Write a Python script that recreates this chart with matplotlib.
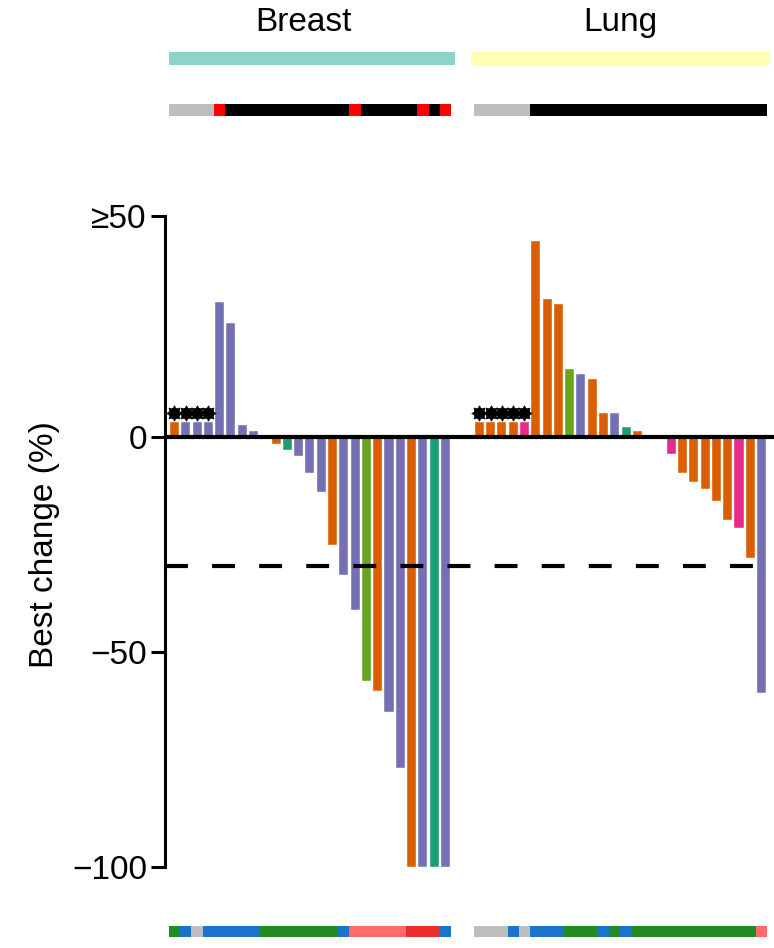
import matplotlib
matplotlib.use("Agg")
import matplotlib.pyplot as plt
import numpy as np

plt.rcParams['font.family'] = ['Liberation Sans', 'DejaVu Sans']

# best change (%) per patient, sorted as in the figure
breast_change = [3.5, 3.5, 3.5, 3.5, 31.5, 26.4, 2.8, 1.5, 0.0, -1.7, -3.0, -4.3, -8.4,
                 -12.7, -25.0, -32.2, -40.2, -56.8, -59.1, -64.0, -77.0, -100, -100, -100, -100]
breast_color = ['o', 'p', 'p', 'p', 'p', 'p', 'p', 'p', 'p', 'o', 't', 'p', 'p',
                'p', 'o', 'p', 'p', 'g', 'o', 'p', 'p', 'o', 'p', 't', 'p']
lung_change = [3.5, 3.5, 3.5, 3.5, 3.5, 45.5, 32.2, 30.9, 15.8, 14.6, 13.6, 5.6, 5.6,
               2.3, 1.3, 0.0, 0.0, -4.0, -8.4, -10.5, -12.1, -14.8, -19.4, -21.2, -28.1, -59.5]
lung_color = ['o', 'o', 'o', 'o', 'k', 'o', 'o', 'o', 'g', 'p', 'o', 'o', 'p',
              't', 'o', 'o', 'o', 'k', 'o', 'o', 'o', 'o', 'o', 'k', 'o', 'p']
breast_star = [1, 1, 1, 1] + [0] * 21
lung_star = [1, 1, 1, 1, 1] + [0] * 21

breast_status = ['n'] * 4 + ['r'] + ['b'] * 11 + ['r'] + ['b'] * 5 + ['r', 'b', 'r']
lung_status = ['n'] * 5 + ['b'] * 21

breast_bottom = ['g', 'b', 'n'] + ['b'] * 5 + ['g'] * 7 + ['b'] + ['lr'] * 5 + ['r'] * 3 + ['b']
lung_bottom = ['n'] * 3 + ['b', 'n'] + ['b'] * 3 + ['g'] * 3 + ['b', 'g', 'b'] + ['g'] * 11 + ['lr']

groups = ['Breast', 'Lung']
group_colors = ['#8DD3C7', '#FFFFB3']
cutoff = -30

bar_cols = {'o': '#D95F02', 'p': '#7570B3', 't': '#1B9E77', 'g': '#66A61E', 'k': '#E7298A'}
status_cols = {'n': '#BEBEBE', 'r': '#FF0000', 'b': '#000000'}
bottom_cols = {'g': '#228B22', 'b': '#1874CD', 'n': '#BEBEBE', 'lr': '#FF6A6A', 'r': '#EE2C2C'}

gap = 2
xb = np.arange(len(breast_change))
xl = np.arange(len(lung_change)) + len(breast_change) + gap
x = np.concatenate([xb, xl])
change = np.array(breast_change + lung_change)
colors = [bar_cols[c] for c in breast_color + lung_color]
stars = np.array(breast_star + lung_star, dtype=bool)

W, H = 774, 948
fig = plt.figure(figsize=(W / 100, H / 100), dpi=100)

def px_axes(left, top, right, bottom):
    return fig.add_axes([left / W, 1 - bottom / H, (right - left) / W, (bottom - top) / H])

ytop = 51.4
ax = px_axes(165, 216, 774, 867)
ax.bar(x, change, width=0.8, color=colors, edgecolor='white', linewidth=0.3)
# asterisk-like blobs above the flagged bars
ax.plot(x[stars], np.full(stars.sum(), 5.6), ls='none', marker='o', ms=8.5,
        mfc='black', mec='none')
ax.plot(x[stars], np.full(stars.sum(), 5.6), ls='none', marker=(8, 1, 0), ms=11,
        mfc='black', mec='black', mew=0.8)
ax.axhline(0, color='black', lw=3, zorder=3)
ax.axhline(cutoff, color='black', lw=3, dashes=(5.5, 5.8), dash_capstyle='butt', zorder=3)
ax.set_xlim(-0.84, 53.1)
ax.set_ylim(-100, ytop)
ax.set_yticks([ytop, 0, -50, -100])
ax.set_yticklabels(['≥50', '0', '−50', '−100'])
ax.tick_params(axis='y', labelsize=24, length=10, width=2.2, pad=3)
ax.set_xticks([])
for s in ['top', 'right', 'bottom']:
    ax.spines[s].set_visible(False)
ax.spines['left'].set_linewidth(2.2)
ax.set_ylabel('Best change (%)', fontsize=24)
ax.yaxis.set_label_coords(-0.172, 0.495)

# group header strip
ax_t = px_axes(165, 52, 774, 65)
spans = [(xb[0] - 0.5, xb[-1] + 0.85), (xl[0] - 0.75, xl[-1] + 0.75)]
label_x = [xb.mean() - 0.6, xl.mean()]
for (a, b), lx, g, c in zip(spans, label_x, groups, group_colors):
    ax_t.axvspan(a, b, color=c, lw=0)
    ax_t.text(lx, 3.3, g, ha='center', va='center', fontsize=24,
              transform=ax_t.get_xaxis_transform())

# status strip
ax_s = px_axes(165, 104, 774, 116)
ax_s.bar(x, 1, width=1.0, color=[status_cols[c] for c in breast_status + lung_status], lw=0)

# bottom strip
ax_b = px_axes(165, 926, 774, 937)
ax_b.bar(x, 1, width=1.0, color=[bottom_cols[c] for c in breast_bottom + lung_bottom], lw=0)

for a in [ax_t, ax_s, ax_b]:
    a.set_xlim(ax.get_xlim())
    a.set_ylim(0, 1)
    a.axis('off')

fig.savefig('out.png', dpi=100)
